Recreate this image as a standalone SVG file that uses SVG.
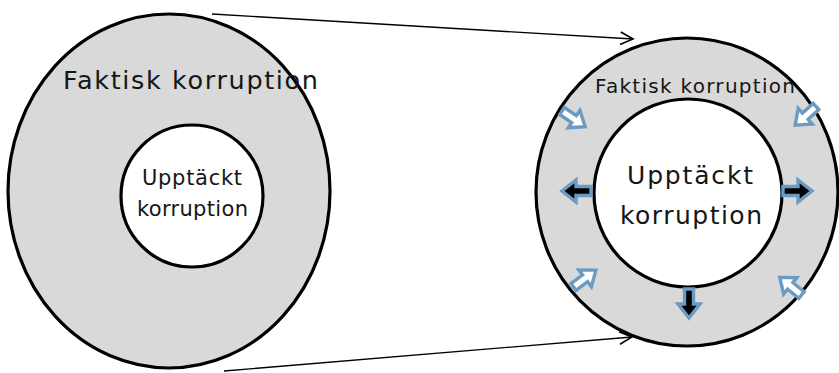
<svg xmlns="http://www.w3.org/2000/svg" width="839" height="373" viewBox="0 0 839 373">
  <style>
    .ring { fill: #d9d9d9; stroke: #000; stroke-width: 3.2; }
    .core { fill: #fff; stroke: #000; stroke-width: 3.2; }
    .lbl { font-family: "DejaVu Sans", Verdana, sans-serif; fill: #161616; }
    .link { fill: none; stroke: #000; stroke-width: 1.4; }
    .flow { stroke: #6b9bc3; stroke-width: 3.4; stroke-linejoin: miter; }
    .flow-in { fill: #fff; }
    .flow-out { fill: #000; }
  </style>
  <defs>
    <marker id="open-head" markerUnits="userSpaceOnUse" markerWidth="16" markerHeight="16" viewBox="-12 -7 14 14" refX="0" refY="0" orient="auto">
      <path d="M-11,-5.5 L0,0 L-11,5.5" fill="none" stroke="#000" stroke-width="1.4"/>
    </marker>
    <!-- block arrow pointing along +x, tail at origin -->
    <path id="block" d="M0,-4.5 H15 V-11 L29,0 L15,11 V4.5 H0 Z"/>
    <path id="block-s" d="M0,-4.2 H14.5 V-10.5 L28,0 L14.5,10.5 V4.2 H0 Z"/>
  </defs>

  <!-- connectors between the two views -->
  <g id="connectors">
    <line class="link" x1="212" y1="14" x2="633" y2="39" marker-end="url(#open-head)"/>
    <line class="link" x1="224" y1="371" x2="632" y2="337" marker-end="url(#open-head)"/>
  </g>

  <!-- left view -->
  <g id="actual-left">
    <ellipse class="ring" cx="169" cy="191" rx="161" ry="177"/>
    <text class="lbl" x="63" y="89" font-size="25.5" textLength="255" lengthAdjust="spacing">Faktisk korruption</text>
  </g>
  <g id="detected-left">
    <circle class="core" cx="192" cy="196" r="71"/>
    <text class="lbl" x="142" y="185" font-size="21" textLength="100" lengthAdjust="spacing">Upptäckt</text>
    <text class="lbl" x="137" y="216" font-size="21" textLength="111" lengthAdjust="spacing">korruption</text>
  </g>

  <!-- right view -->
  <g id="actual-right">
    <ellipse class="ring" cx="687" cy="192" rx="151" ry="154"/>
    <text class="lbl" x="595" y="92.5" font-size="20" textLength="200" lengthAdjust="spacing">Faktisk korruption</text>
  </g>
  <g id="detected-right">
    <circle class="core" cx="688" cy="193" r="94"/>
    <text class="lbl" x="627" y="183.5" font-size="25" textLength="126" lengthAdjust="spacing">Upptäckt</text>
    <text class="lbl" x="620" y="223.5" font-size="25" textLength="142" lengthAdjust="spacing">korruption</text>
  </g>

  <!-- movement arrows in the ring -->
  <g id="flows">
    <use href="#block-s" class="flow flow-in" transform="translate(562,111) rotate(34)"/>
    <use href="#block-s" class="flow flow-in" transform="translate(816,106.5) rotate(138)"/>
    <use href="#block-s" class="flow flow-in" transform="translate(573.5,287) rotate(-37)"/>
    <use href="#block-s" class="flow flow-in" transform="translate(801.5,295) rotate(-141)"/>
    <use href="#block" class="flow flow-out" transform="translate(591,191) rotate(180)"/>
    <use href="#block" class="flow flow-out" transform="translate(783,191)"/>
    <use href="#block" class="flow flow-out" transform="translate(689,289) rotate(90)"/>
  </g>
</svg>
